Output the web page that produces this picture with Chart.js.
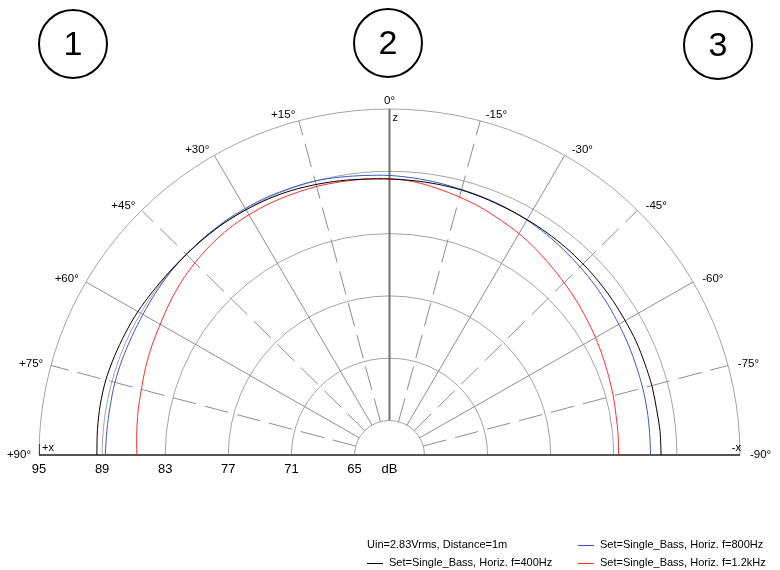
<!DOCTYPE html>
<html>
<head>
<meta charset="utf-8">
<script src="https://cdn.jsdelivr.net/npm/chart.js@4/dist/chart.umd.min.js"></script>
<style>
  html, body { margin: 0; padding: 0; background: #ffffff; }
  canvas { display: block; }
</style>
</head>
<body>
<canvas id="polar" width="780" height="570"></canvas>
<script>
// Horizontal directivity, angles in degrees (+ = towards +x, drawn on the left)
const angleDeg = [90, 85, 80, 75, 70, 65, 60, 55, 50, 45, 40, 35, 30, 25, 20, 15, 10, 5, 0,
                  -5, -10, -15, -20, -25, -30, -35, -40, -45, -50, -55, -60, -65, -70, -75, -80, -85, -90];

// Sound pressure level in dB for each angle
const level400Hz = [89.5, 89.55, 89.6, 89.6, 89.5, 89.4, 89.3, 89.15, 89.05, 89.0, 89.0, 89.0, 88.95, 88.9, 88.8, 88.65, 88.5, 88.35, 88.25,
                    88.2, 88.15, 88.1, 88.0, 87.9, 87.85, 87.8, 87.75, 87.7, 87.65, 87.6, 87.55, 87.55, 87.5, 87.5, 87.45, 87.5, 87.5];
const level800Hz = [88.7, 88.65, 88.65, 88.7, 88.7, 88.7, 88.75, 88.85, 88.95, 89.0, 89.05, 89.1, 89.1, 89.1, 89.05, 89.0, 88.85, 88.7, 88.6,
                    88.45, 88.3, 88.15, 88.05, 87.95, 87.8, 87.65, 87.45, 87.3, 87.15, 87.0, 86.85, 86.75, 86.65, 86.6, 86.55, 86.5, 86.5];
const level1200Hz = [85.7, 85.8, 85.95, 86.1, 86.35, 86.6, 86.85, 87.2, 87.55, 87.85, 88.1, 88.3, 88.4, 88.45, 88.45, 88.45, 88.4, 88.35, 88.3,
                     88.1, 87.75, 87.4, 87.05, 86.65, 86.3, 85.9, 85.5, 85.15, 84.85, 84.55, 84.3, 84.05, 83.85, 83.7, 83.55, 83.5, 83.45];

// Radial grid (dB) and angular grid
const ringDb = [95, 89, 83, 77, 71, 65];
const ringLabels = ['95', '89', '83', '77', '71', '65'];
const spokeDeg = [90, 75, 60, 45, 30, 15, 0, -15, -30, -45, -60, -75, -90];
const spokeLabels = ['+90°', '+75°', '+60°', '+45°', '+30°', '+15°', '0°', '-15°', '-30°', '-45°', '-60°', '-75°', '-90°'];
const dashedSpokes = [75, 45, 15, -15, -45, -75];

const seriesNames = ['Set=Single_Bass, Horiz. f=400Hz', 'Set=Single_Bass, Horiz. f=800Hz', 'Set=Single_Bass, Horiz. f=1.2kHz'];
const seriesColors = ['#000000', '#3a58c4', '#ff2a2a'];
const conditionsText = 'Uin=2.83Vrms, Distance=1m';
const panelMarks = ['1', '2', '3'];

// Level at the pole of the plot and at the outer ring
const POLE_DB = 61.68;
const TOP_DB = 95;
const R_MAX = TOP_DB - POLE_DB;

function toXY(deg, db) {
  const r = db - POLE_DB;
  const t = deg * Math.PI / 180;
  return { x: -r * Math.sin(t), y: r * Math.cos(t) };
}

function series(levels) {
  return angleDeg.map((a, i) => toXY(a, levels[i]));
}

const FONT = 'Arial, "Liberation Sans", sans-serif';

const polarGrid = {
  id: 'polarGrid',
  beforeDatasetsDraw(chart) {
    const ctx = chart.ctx;
    const xs = chart.scales.x, ys = chart.scales.y;
    const cx = xs.getPixelForValue(0), cy = ys.getPixelForValue(0);
    const rx = db => xs.getPixelForValue(db - POLE_DB) - cx;
    const ry = db => cy - ys.getPixelForValue(db - POLE_DB);
    ctx.save();

    // rings
    ctx.strokeStyle = '#a4a4a4';
    ctx.lineWidth = 1;
    ringDb.forEach(db => {
      ctx.beginPath();
      ctx.ellipse(cx, cy, rx(db), ry(db), 0, Math.PI, 2 * Math.PI);
      ctx.stroke();
    });

    // spokes
    const inner = ringDb[ringDb.length - 1], outer = ringDb[0];
    spokeDeg.forEach(a => {
      if (a === 0 || Math.abs(a) === 90) return;
      const t = a * Math.PI / 180;
      ctx.beginPath();
      ctx.strokeStyle = '#8e8e8e';
      ctx.lineWidth = 1;
      ctx.setLineDash(dashedSpokes.includes(a) ? [24, 9] : []);
      ctx.moveTo(cx - rx(inner) * Math.sin(t), cy - ry(inner) * Math.cos(t));
      ctx.lineTo(cx - rx(outer) * Math.sin(t), cy - ry(outer) * Math.cos(t));
      ctx.stroke();
    });
    ctx.setLineDash([]);

    // 0° axis
    ctx.strokeStyle = '#727272';
    ctx.lineWidth = 2;
    ctx.beginPath();
    ctx.moveTo(cx, cy - ry(inner));
    ctx.lineTo(cx, cy - ry(outer));
    ctx.stroke();

    // ±90° baseline
    ctx.strokeStyle = '#555555';
    ctx.beginPath();
    ctx.moveTo(cx - rx(outer), cy);
    ctx.lineTo(cx + rx(outer), cy);
    ctx.stroke();

    // x-direction ticks
    ctx.lineWidth = 1;
    ctx.strokeStyle = '#444444';
    ctx.beginPath();
    ctx.moveTo(Math.round(cx - rx(outer)) + 0.5, cy - 11);
    ctx.lineTo(Math.round(cx - rx(outer)) + 0.5, cy);
    ctx.stroke();
    ctx.restore();
  },
  afterDraw(chart) {
    const ctx = chart.ctx;
    const xs = chart.scales.x, ys = chart.scales.y;
    const cx = xs.getPixelForValue(0), cy = ys.getPixelForValue(0);
    const rx = db => xs.getPixelForValue(db - POLE_DB) - cx;
    const ry = db => cy - ys.getPixelForValue(db - POLE_DB);
    const outer = ringDb[0];
    ctx.save();
    ctx.fillStyle = '#000000';

    // angle labels
    ctx.font = '11.5px ' + FONT;
    ctx.textBaseline = 'middle';
    spokeDeg.forEach((a, i) => {
      const t = a * Math.PI / 180;
      const px = cx - rx(outer) * Math.sin(t);
      const py = cy - ry(outer) * Math.cos(t);
      if (a === 0) {
        ctx.textAlign = 'center';
        ctx.fillText(spokeLabels[i], px, py - 8);
      } else if (a > 0) {
        ctx.textAlign = 'right';
        ctx.fillText(spokeLabels[i], px - 2 - 6 * Math.sin(t), py - 6 * Math.cos(t));
      } else {
        ctx.textAlign = 'left';
        ctx.fillText(spokeLabels[i], px + 4 - 6 * Math.sin(t), py - 6 * Math.cos(t));
      }
    });

    // axis names
    ctx.font = '11px ' + FONT;
    ctx.textAlign = 'left';
    ctx.fillText('z', cx + 3, cy - ry(outer) + 9);
    ctx.fillText('+x', cx - rx(outer) + 3, cy - 7);
    ctx.textAlign = 'right';
    ctx.fillText('-x', cx + rx(outer) + 1, cy - 7);

    // dB labels
    ctx.font = '13px ' + FONT;
    ctx.textAlign = 'center';
    ringDb.forEach((db, i) => {
      ctx.fillText(ringLabels[i], cx - rx(db), cy + 14);
    });
    ctx.fillText('dB', cx, cy + 14);

    // legend
    ctx.font = '11px ' + FONT;
    ctx.textAlign = 'left';
    const col1 = 367, col2 = 578, row1 = 545, row2 = 563;
    ctx.fillText(conditionsText, col1, row1);
    const entries = [[col1, row2, 0], [col2, row1, 1], [col2, row2, 2]];
    entries.forEach(([x, y, k]) => {
      ctx.strokeStyle = seriesColors[k];
      ctx.lineWidth = 1;
      ctx.beginPath();
      ctx.moveTo(x, Math.round(y) + 0.5);
      ctx.lineTo(x + 16, Math.round(y) + 0.5);
      ctx.stroke();
      ctx.fillText(seriesNames[k], x + 22, y);
    });

    // circled panel numbers
    const marks = [[73, 44], [388, 43], [718, 45]];
    ctx.strokeStyle = '#000000';
    ctx.lineWidth = 2;
    ctx.font = '34px ' + FONT;
    ctx.textAlign = 'center';
    marks.forEach(([mx, my], i) => {
      ctx.beginPath();
      ctx.ellipse(mx, my, 34, 34, 0, 0, 2 * Math.PI);
      ctx.stroke();
      ctx.fillText(panelMarks[i], mx, my + 2);
    });
    ctx.restore();
  }
};

new Chart(document.getElementById('polar'), {
  type: 'scatter',
  data: {
    datasets: [
      { label: seriesNames[0], data: series(level400Hz), borderColor: seriesColors[0] },
      { label: seriesNames[1], data: series(level800Hz), borderColor: seriesColors[1] },
      { label: seriesNames[2], data: series(level1200Hz), borderColor: seriesColors[2] }
    ].map(d => Object.assign(d, { showLine: true, pointRadius: 0, borderWidth: 1, tension: 0.3, fill: false }))
  },
  options: {
    responsive: false,
    animation: false,
    events: [],
    layout: { padding: { left: 39, right: 40, top: 109, bottom: 115 } },
    scales: {
      x: { type: 'linear', min: -R_MAX, max: R_MAX, display: false },
      y: { type: 'linear', min: 0, max: R_MAX, display: false }
    },
    plugins: { legend: { display: false }, tooltip: { enabled: false } }
  },
  plugins: [polarGrid]
});
</script>
</body>
</html>
